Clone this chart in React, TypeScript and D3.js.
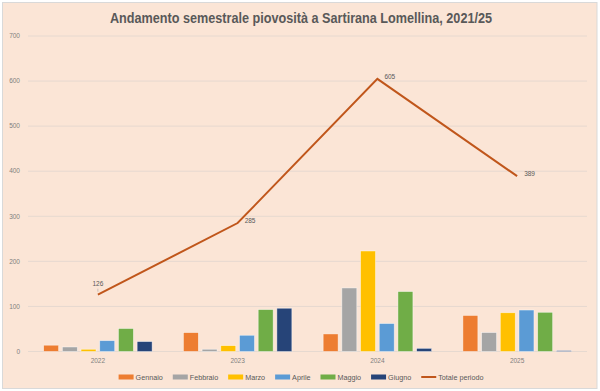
import React from "react";
import * as d3 from "d3";

const years = ["2022", "2023", "2024", "2025"];
const months = ["Gennaio", "Febbraio", "Marzo", "Aprile", "Maggio", "Giugno"];
const gennaio = [14, 42, 39, 80];
const febbraio = [10, 5, 141, 42];
const marzo = [5, 13, 223, 86];
const aprile = [24, 36, 62, 92];
const maggio = [51, 93, 133, 87];
const giugno = [22, 96, 7, 2];
const totale = [126, 285, 605, 389];
const yTicks = [0, 100, 200, 300, 400, 500, 600, 700];
const lineName = "Totale periodo";
const title = "Andamento semestrale piovosità a Sartirana Lomellina, 2021/25";

const monthSeries = [gennaio, febbraio, marzo, aprile, maggio, giugno];
const colors = ["#ED7D31", "#A5A5A5", "#FFC000", "#5B9BD5", "#70AD47", "#264478"];
const lineColor = "#C0561B";
const labelPlacement = ["above", "right", "right", "right"];

const W = 600;
const H = 391;
const FONT = "'Liberation Sans', Arial, sans-serif";

function measure(text: string, size: number) {
  const c = document.createElement("canvas").getContext("2d");
  if (!c) return text.length * size * 0.5;
  c.font = `${size}px 'Liberation Sans', Arial, sans-serif`;
  return c.measureText(text).width;
}

export default function App() {
  const x0 = d3.scaleBand<string>().domain(years).range([28, 587]).paddingInner(0.224).paddingOuter(0.112);
  const x1 = d3.scaleBand<string>().domain(months).range([0, x0.bandwidth()]).paddingInner(0.2).paddingOuter(0);
  const y = d3.scaleLinear().domain([0, 700]).range([351.5, 36]);

  const cx = (yr: string) => (x0(yr) ?? 0) + x0.bandwidth() / 2;
  const line = d3
    .line<number>()
    .x((_, i) => cx(years[i]))
    .y((d) => y(d));

  const legendItems = [...months.map((m, i) => ({ name: m, color: colors[i], type: "bar" })), { name: lineName, color: lineColor, type: "line" }];
  const fs = 7.2;
  const sw = 15;
  const gapSwText = 2;
  const gapItems = 10;
  const widths = legendItems.map((it) => sw + gapSwText + measure(it.name, fs));
  const total = d3.sum(widths) + gapItems * (widths.length - 1);
  let lx = 301 - total / 2;
  const legendPos = widths.map((w) => {
    const p = lx;
    lx += w + gapItems;
    return p;
  });
  const ly = 377;

  return (
    <svg width={W} height={H} style={{ position: "absolute", left: 0, top: 0, fontFamily: FONT }}>
      <rect x={0} y={0} width={W} height={H} fill="#FFFFFF" />
      <rect x={2.5} y={2.5} width={594.5} height={386} fill="#FBE5D6" stroke="#D9D9D9" strokeWidth={1} />
      <text x={301} y={23} textAnchor="middle" fontSize={15} fontWeight="bold" fill="#595959" textLength={382} lengthAdjust="spacingAndGlyphs">
        {title}
      </text>
      {yTicks.map((t) => (
        <g key={t}>
          <line x1={28} x2={587} y1={y(t)} y2={y(t)} stroke="#E6D9D0" strokeWidth={1} />
          <text x={20} y={y(t)} dy="0.35em" textAnchor="end" fontSize={6.5} fill="#7F7F7F">
            {t}
          </text>
        </g>
      ))}
      {years.map((yr, yi) => (
        <g key={yr} transform={`translate(${x0(yr)},0)`}>
          {months.map((m, mi) => {
            const v = monthSeries[mi][yi];
            return (
              <rect
                key={m}
                x={x1(m)}
                y={y(v)}
                width={x1.bandwidth()}
                height={y(0) - y(v)}
                fill={colors[mi]}
                stroke="#FFFFFF"
                strokeOpacity={0.6}
                strokeWidth={0.7}
              />
            );
          })}
          <text x={x0.bandwidth() / 2} y={361} dy="0.35em" textAnchor="middle" fontSize={6.5} fill="#7F7F7F">
            {yr}
          </text>
        </g>
      ))}
      <path d={line(totale) ?? ""} fill="none" stroke={lineColor} strokeWidth={2} />
      {totale.map((v, i) => {
        const px = cx(years[i]);
        const py = y(v);
        if (labelPlacement[i] === "above") {
          return (
            <g key={i}>
              <line x1={px} x2={px} y1={py - 6} y2={py - 3} stroke="#A6A6A6" strokeWidth={0.6} />
              <text x={px} y={py - 9} textAnchor="middle" fontSize={6.5} fill="#595959">
                {v}
              </text>
            </g>
          );
        }
        return (
          <text key={i} x={px + 7} y={py - 2} dy="0.35em" textAnchor="start" fontSize={6.5} fill="#595959">
            {v}
          </text>
        );
      })}
      {legendItems.map((it, i) => (
        <g key={it.name} transform={`translate(${legendPos[i]},${ly})`}>
          {it.type === "bar" ? (
            <rect x={0} y={-2.5} width={sw} height={5} fill={it.color} />
          ) : (
            <line x1={0} x2={sw} y1={0} y2={0} stroke={it.color} strokeWidth={2} />
          )}
          <text x={sw + gapSwText} y={0} dy="0.35em" fontSize={fs} fill="#595959">
            {it.name}
          </text>
        </g>
      ))}
    </svg>
  );
}
